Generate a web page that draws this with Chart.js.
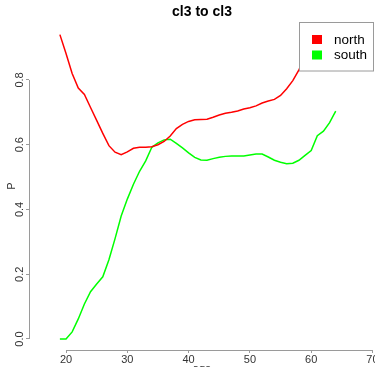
<!DOCTYPE html>
<html>
<head>
<meta charset="utf-8">
<script src="https://cdn.jsdelivr.net/npm/chart.js@4/dist/chart.umd.min.js"></script>
<style>
  html, body { margin: 0; padding: 0; background: #fff; }
  #wrap { width: 375px; height: 367px; }
</style>
</head>
<body>
<div id="wrap"><canvas id="c" width="375" height="367"></canvas></div>
<script>
// Age (x) and probability (y) for each region
const northAges = [19, 20, 21, 22, 23, 24, 25, 26, 27, 28, 29, 30, 31, 32, 33, 34, 35, 36, 37, 38,
                   39, 40, 41, 42, 43, 44, 45, 46, 47, 48, 49, 50, 51, 52, 53, 54, 55, 56, 57, 58, 59];
const northP = [0.940, 0.882, 0.820, 0.775, 0.755, 0.715, 0.675, 0.635, 0.597, 0.577, 0.569,
                0.578, 0.589, 0.592, 0.592, 0.594, 0.600, 0.610, 0.627, 0.650, 0.663, 0.672,
                0.677, 0.678, 0.679, 0.685, 0.692, 0.697, 0.700, 0.704, 0.710, 0.714, 0.720,
                0.729, 0.735, 0.740, 0.752, 0.773, 0.798, 0.831, 0.870];

const southAges = [19, 20, 21, 22, 23, 24, 25, 26, 27, 28, 29, 30, 31, 32, 33, 34, 35, 36, 37, 38,
                   39, 40, 41, 42, 43, 44, 45, 46, 47, 48, 49, 50, 51, 52, 53, 54, 55, 56, 57, 58,
                   59, 60, 61, 62, 63, 64];
const southP = [0.000, 0.000, 0.022, 0.062, 0.108, 0.146, 0.170, 0.192, 0.245, 0.310, 0.380,
                0.432, 0.478, 0.518, 0.550, 0.592, 0.606, 0.615, 0.617, 0.604, 0.590, 0.575,
                0.561, 0.553, 0.552, 0.557, 0.561, 0.564, 0.565, 0.565, 0.565, 0.568, 0.571,
                0.571, 0.562, 0.552, 0.546, 0.541, 0.543, 0.552, 0.567, 0.582, 0.628, 0.642,
                0.668, 0.704];

const xTicks = [20, 30, 40, 50, 60, 70];
const yTicks = [0.0, 0.2, 0.4, 0.6, 0.8];

const seriesNames = ['north', 'south'];
const titleText = 'cl3 to cl3';
const xTitle = 'age';
const yTitle = 'P';

const FONT = '"Liberation Sans", Arial, Helvetica, sans-serif';
const AXIS_GREY = '#9a9a9a';
const TEXT_GREY = '#333333';

const toPoints = (xs, ys) => xs.map((x, i) => ({ x: x, y: ys[i] }));

// Main title centred over the plotting region; x-axis name sits at the bottom edge
const titlePlugin = {
  id: 'plotTitle',
  afterDraw(chart) {
    const { ctx, chartArea } = chart;
    const cx = (chartArea.left + chartArea.right) / 2;
    ctx.save();
    ctx.font = 'bold 14px ' + FONT;
    ctx.fillStyle = '#000';
    ctx.textAlign = 'center';
    ctx.textBaseline = 'middle';
    ctx.fillText(titleText, cx, 12);
    ctx.font = '11px ' + FONT;
    ctx.fillStyle = TEXT_GREY;
    ctx.fillText(xTitle, cx, 369);
    ctx.restore();
  }
};

// Axis lines that span only from the first to the last tick
const axisLinePlugin = {
  id: 'axisLines',
  afterDraw(chart) {
    const { ctx, chartArea, scales } = chart;
    const xs = scales.x, ys = scales.y;
    ctx.save();
    ctx.strokeStyle = AXIS_GREY;
    ctx.lineWidth = 1;
    ctx.beginPath();
    const yb = Math.round(chartArea.bottom) + 0.5;
    ctx.moveTo(xs.getPixelForValue(xTicks[0]), yb);
    ctx.lineTo(xs.getPixelForValue(xTicks[xTicks.length - 1]), yb);
    const xl = Math.round(chartArea.left) + 0.5;
    ctx.moveTo(xl, ys.getPixelForValue(yTicks[0]));
    ctx.lineTo(xl, ys.getPixelForValue(yTicks[yTicks.length - 1]));
    ctx.stroke();
    ctx.restore();
  }
};

// Boxed legend in the top-right corner of the plot
const boxLegendPlugin = {
  id: 'boxLegend',
  afterDatasetsDraw(chart) {
    const { ctx } = chart;
    const bx = 299.5, by = 22.5, bw = 74, bh = 48.5;
    ctx.save();
    ctx.fillStyle = '#fff';
    ctx.fillRect(bx, by, bw, bh);
    ctx.strokeStyle = AXIS_GREY;
    ctx.lineWidth = 1;
    ctx.strokeRect(bx, by, bw, bh);
    ctx.font = '13.5px ' + FONT;
    ctx.textBaseline = 'middle';
    ctx.textAlign = 'left';
    chart.data.datasets.forEach((ds, i) => {
      const cy = 39.5 + i * 15.5;
      ctx.fillStyle = ds.borderColor;
      ctx.fillRect(312, cy - 4.5, 10, 9);
      ctx.fillStyle = '#000';
      ctx.fillText(ds.label, 334, cy + 0.5);
    });
    ctx.restore();
  }
};

new Chart(document.getElementById('c'), {
  type: 'line',
  data: {
    datasets: [
      {
        label: seriesNames[0],
        data: toPoints(northAges, northP),
        borderColor: '#ff0000',
        borderWidth: 1.5,
        pointRadius: 0,
        tension: 0,
        fill: false
      },
      {
        label: seriesNames[1],
        data: toPoints(southAges, southP),
        borderColor: '#00ff00',
        borderWidth: 1.5,
        pointRadius: 0,
        tension: 0,
        fill: false
      }
    ]
  },
  options: {
    responsive: false,
    animation: false,
    devicePixelRatio: 1,
    layout: { padding: { top: 22, right: 0, left: 0, bottom: 0 } },
    plugins: {
      legend: { display: false },
      title: { display: false },
      tooltip: { enabled: false }
    },
    scales: {
      x: {
        type: 'linear',
        min: 13.96,
        max: 70.41,
        afterBuildTicks: s => { s.ticks = xTicks.map(v => ({ value: v })); },
        afterFit: s => { s.height = 17; s.paddingLeft = 0; s.paddingRight = 0; },
        ticks: {
          autoSkip: false,
          maxRotation: 0,
          minRotation: 0,
          padding: 0,
          color: TEXT_GREY,
          font: { family: FONT, size: 11 },
          callback: v => String(v)
        },
        grid: {
          display: true,
          drawOnChartArea: false,
          drawTicks: true,
          tickLength: 3,
          color: AXIS_GREY
        },
        border: { display: false }
      },
      y: {
        type: 'linear',
        min: -0.034,
        max: 0.979,
        afterBuildTicks: s => { s.ticks = yTicks.map(v => ({ value: v })); },
        afterFit: s => { s.width = 29; s.paddingTop = 0; s.paddingBottom = 0; },
        ticks: {
          autoSkip: false,
          minRotation: 90,
          maxRotation: 90,
          crossAlign: 'center',
          padding: -2,
          color: TEXT_GREY,
          font: { family: FONT, size: 11 },
          callback: v => Number(v).toFixed(1)
        },
        grid: {
          display: true,
          drawOnChartArea: false,
          drawTicks: true,
          tickLength: 3,
          color: AXIS_GREY
        },
        border: { display: false },
        title: {
          display: true,
          text: yTitle,
          color: TEXT_GREY,
          font: { family: FONT, size: 11 },
          padding: { top: 5, bottom: 0 }
        }
      }
    }
  },
  plugins: [titlePlugin, axisLinePlugin, boxLegendPlugin]
});
</script>
</body>
</html>
